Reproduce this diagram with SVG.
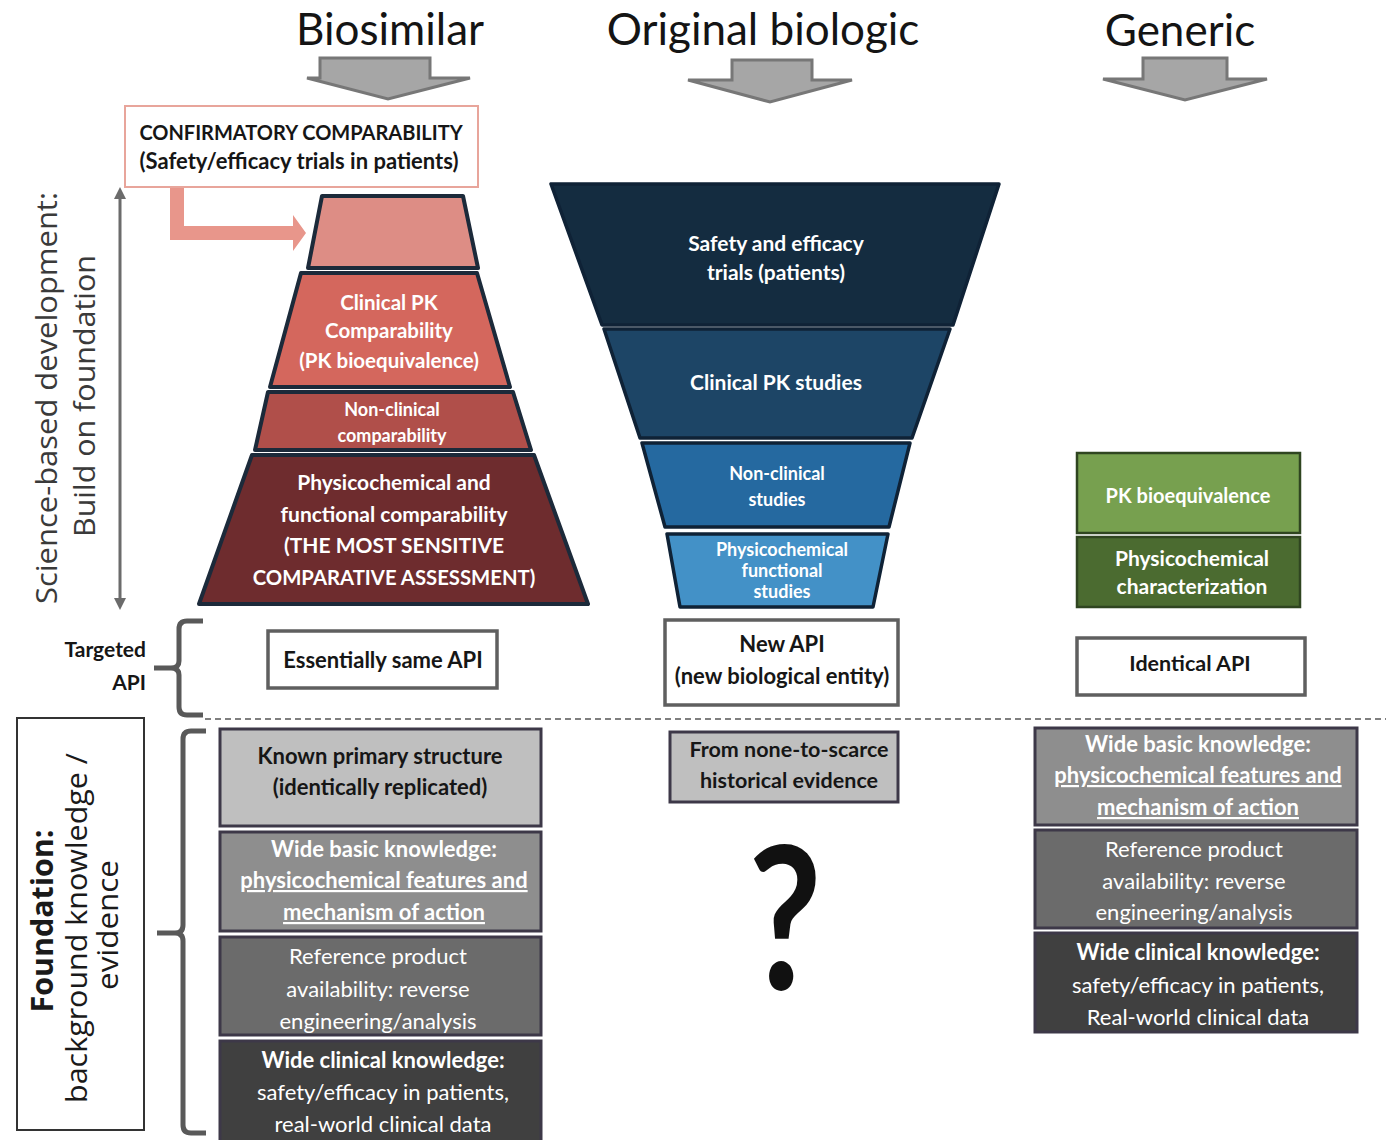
<svg xmlns="http://www.w3.org/2000/svg" width="1386" height="1140" viewBox="0 0 1386 1140">
<defs>
<marker id="ah" viewBox="0 0 10 10" refX="5" refY="5" markerWidth="4" markerHeight="4" orient="auto-start-reverse"><path d="M0,0 L10,5 L0,10 z" fill="#6b6b6b"/></marker>
</defs>
<style>
text{font-family:Lato,"Liberation Sans",sans-serif;text-anchor:middle}
.title{font-size:44px;fill:#141414}
.w{fill:#fff;font-weight:bold}
.wr{fill:#fff}
.k{fill:#161616}
.kb{fill:#161616;font-weight:bold}
.side{font-family:"Open Sans","Noto Sans",sans-serif;fill:#3a3a3a}
.blk{fill:#a6a6a6;stroke:#777;stroke-width:3;stroke-linejoin:miter}
.pyr{stroke:#1c2a3a;stroke-width:4;stroke-linejoin:round}
.fun{stroke:#0f2236;stroke-width:3.5;stroke-linejoin:round}
.gb{stroke:#2f4520;stroke-width:2.5}
.api{fill:#fff;stroke:#5f5f5f;stroke-width:3.5}
.fb{stroke:#3d3848;stroke-width:3}
.brace{fill:none;stroke:#595959;stroke-width:5;stroke-linecap:butt}
.ul{text-decoration:underline}
.bx{font-size:22px}
</style>

<g id="titles">
<text class="title" x="390" y="45">Biosimilar</text>
<text class="title" x="763" y="45">Original biologic</text>
<text class="title" x="1180" y="46">Generic</text>
</g>

<g id="connectors">
<polygon class="blk" points="320,58 430,58 430,78 470,78 388,99 307,78 320,78"/>
<polygon class="blk" points="732,60 812,60 812,80 852,80 770,102 688,80 732,80"/>
<polygon class="blk" points="1143,58 1227,58 1227,79 1267,79 1185,100 1103,79 1143,79"/>
<polygon fill="#e8968b" points="170,187 184,187 184,226 293,226 293,215 306,233 293,251 293,240 170,240"/>
<line x1="120" y1="193" x2="120" y2="604" stroke="#6b6b6b" stroke-width="3" marker-start="url(#ah)" marker-end="url(#ah)"/>
<path class="brace" d="M203,621 H187 Q179,621 179,629 V661 Q179,668 171,668 H154 M171,668 Q179,668 179,675 V707 Q179,715 187,715 H203"/>
<path class="brace" d="M206,731 H191 Q183,731 183,739 V925 Q183,933 175,933 H157 M175,933 Q183,933 183,941 V1125 Q183,1133 191,1133 H206"/>
<line x1="205" y1="719" x2="1386" y2="719" stroke="#555" stroke-width="1.6" stroke-dasharray="6 4"/>
</g>

<g id="side-labels">
<text class="side" font-size="29" transform="translate(57,398) rotate(-90)" textLength="412" lengthAdjust="spacingAndGlyphs">Science-based development:</text>
<text class="side" font-size="29" transform="translate(95,396) rotate(-90)" textLength="282" lengthAdjust="spacingAndGlyphs">Build on foundation</text>
<text class="kb" font-size="21" x="146" y="657" style="text-anchor:end">Targeted</text>
<text class="kb" font-size="21" x="146" y="690" style="text-anchor:end">API</text>
</g>

<g id="foundation-label">
<rect x="17" y="718" width="127" height="412" fill="#fff" stroke="#333" stroke-width="2"/>
<text class="side" font-size="30" font-weight="bold" style="fill:#1a1a1a" transform="translate(53,921) rotate(-90)" textLength="183" lengthAdjust="spacingAndGlyphs">Foundation:</text>
<text class="side" font-size="29" style="fill:#1a1a1a" transform="translate(87,928) rotate(-90)" textLength="350" lengthAdjust="spacingAndGlyphs">background knowledge /</text>
<text class="side" font-size="29" style="fill:#1a1a1a" transform="translate(118,925) rotate(-90)" textLength="130" lengthAdjust="spacingAndGlyphs">evidence</text>
</g>

<g id="confirmatory">
<rect x="125" y="106" width="353" height="81" fill="#fff" stroke="#e8a59b" stroke-width="2"/>
<text class="kb" font-size="20" x="301" y="140">CONFIRMATORY COMPARABILITY</text>
<text class="kb" font-size="22" x="299" y="169">(Safety/efficacy trials in patients)</text>
</g>

<g id="biosimilar-pyramid">
<g id="bio-layer1"><polygon class="pyr" fill="#dd8d85" points="322,196 463,196 478,268 308,268"/></g>
<g id="bio-layer2"><polygon class="pyr" fill="#d4675d" points="301,273 477,273 510,387 270,387"/>
<text class="w" font-size="20.5" x="389" y="310">Clinical PK</text>
<text class="w" font-size="20.5" x="389" y="338">Comparability</text>
<text class="w" font-size="20.5" x="389" y="368">(PK bioequivalence)</text></g>
<g id="bio-layer3"><polygon class="pyr" fill="#b04f4a" points="268,392 513,392 531,450 255,450"/>
<text class="w" font-size="18" x="392" y="416">Non-clinical</text>
<text class="w" font-size="18" x="392" y="442">comparability</text></g>
<g id="bio-layer4"><polygon class="pyr" fill="#6e2c2e" points="252,455 534,455 588,604 199,604"/>
<text class="w" font-size="21" x="394" y="490">Physicochemical and</text>
<text class="w" font-size="21" x="394" y="522">functional comparability</text>
<text class="w" font-size="21" x="394" y="553">(THE MOST SENSITIVE</text>
<text class="w" font-size="20.3" x="394" y="585">COMPARATIVE ASSESSMENT)</text></g>
</g>

<g id="original-funnel">
<g id="orig-layer1"><polygon class="fun" fill="#142c40" points="551,184 999,184 953,325 602,325"/>
<text class="w" font-size="21" x="776" y="251">Safety and efficacy</text>
<text class="w" font-size="21" x="776" y="280">trials (patients)</text></g>
<g id="orig-layer2"><polygon class="fun" fill="#1d4566" points="604,329 950,329 912,438 640,438"/>
<text class="w" font-size="21" x="776" y="390">Clinical PK studies</text></g>
<g id="orig-layer3"><polygon class="fun" fill="#2569a0" points="642,443 910,443 889,527 665,527"/>
<text class="w" font-size="18" x="777" y="480">Non-clinical</text>
<text class="w" font-size="18" x="777" y="506">studies</text></g>
<g id="orig-layer4"><polygon class="fun" fill="#4391c7" points="667,534 888,534 873,607 680,607"/>
<text class="w" font-size="18" x="782" y="556">Physicochemical</text>
<text class="w" font-size="18" x="782" y="577">functional</text>
<text class="w" font-size="18" x="782" y="598">studies</text></g>
</g>

<g id="generic-stack">
<g id="gen-pk"><rect class="gb" x="1077" y="453" width="223" height="80" fill="#77a04f"/>
<text class="w" font-size="20" x="1188" y="503">PK bioequivalence</text></g>
<g id="gen-phys"><rect class="gb" x="1077" y="537" width="223" height="70" fill="#4b6b30"/>
<text class="w" font-size="21" x="1192" y="566">Physicochemical</text>
<text class="w" font-size="21" x="1192" y="594">characterization</text></g>
</g>

<g id="api-boxes">
<g id="api-bio"><rect class="api" x="268" y="631" width="229" height="57"/>
<text class="kb" font-size="22" x="383" y="668">Essentially same API</text></g>
<g id="api-orig"><rect class="api" x="665" y="620" width="233" height="85"/>
<text class="kb" font-size="22" x="782" y="652">New API</text>
<text class="kb" font-size="22" x="782" y="684">(new biological entity)</text></g>
<g id="api-gen"><rect class="api" x="1077" y="638" width="228" height="57"/>
<text class="kb" font-size="21.5" x="1190" y="671">Identical API</text></g>
</g>

<g id="bio-foundation">
<g id="bf1"><rect class="fb" x="220" y="729" width="321" height="97" fill="#bfbfbf"/>
<text class="kb bx" x="380" y="764">Known primary structure</text>
<text class="kb bx" x="380" y="795">(identically replicated)</text></g>
<g id="bf2"><rect class="fb" x="220" y="832" width="321" height="99" fill="#8e8e8e"/>
<text class="w bx" x="384" y="857">Wide basic knowledge:</text>
<text class="w ul bx" x="384" y="888">physicochemical features and</text>
<text class="w ul bx" x="384" y="920">mechanism of action</text></g>
<g id="bf3"><rect class="fb" x="220" y="937" width="321" height="98" fill="#6b6b6b"/>
<text class="wr bx" x="378" y="964">Reference product</text>
<text class="wr bx" x="378" y="997">availability: reverse</text>
<text class="wr bx" x="378" y="1029">engineering/analysis</text></g>
<g id="bf4"><rect class="fb" x="220" y="1041" width="321" height="104" fill="#404040"/>
<text class="w bx" x="383" y="1068">Wide clinical knowledge:</text>
<text class="wr bx" x="383" y="1100">safety/efficacy in patients,</text>
<text class="wr bx" x="383" y="1132">real-world clinical data</text></g>
</g>

<g id="orig-foundation">
<g id="of1"><rect class="fb" x="670" y="732" width="228" height="70" fill="#bfbfbf"/>
<text class="kb" font-size="21.5" x="789" y="757">From none-to-scarce</text>
<text class="kb" font-size="21.5" x="789" y="788">historical evidence</text></g>
<text id="question" font-size="200" font-weight="bold" fill="#111" transform="translate(785,990) scale(0.8,1)" x="0" y="0">?</text>
</g>

<g id="gen-foundation">
<g id="gf1"><rect class="fb" x="1035" y="728" width="322" height="97" fill="#8e8e8e"/>
<text class="w bx" x="1198" y="752">Wide basic knowledge:</text>
<text class="w ul bx" x="1198" y="783">physicochemical features and</text>
<text class="w ul bx" x="1198" y="815">mechanism of action</text></g>
<g id="gf2"><rect class="fb" x="1035" y="830" width="322" height="98" fill="#6b6b6b"/>
<text class="wr bx" x="1194" y="857">Reference product</text>
<text class="wr bx" x="1194" y="889">availability: reverse</text>
<text class="wr bx" x="1194" y="920">engineering/analysis</text></g>
<g id="gf3"><rect class="fb" x="1035" y="933" width="322" height="99" fill="#404040"/>
<text class="w bx" x="1198" y="960">Wide clinical knowledge:</text>
<text class="wr bx" x="1198" y="993">safety/efficacy in patients,</text>
<text class="wr bx" x="1198" y="1025">Real-world clinical data</text></g>
</g>
</svg>
